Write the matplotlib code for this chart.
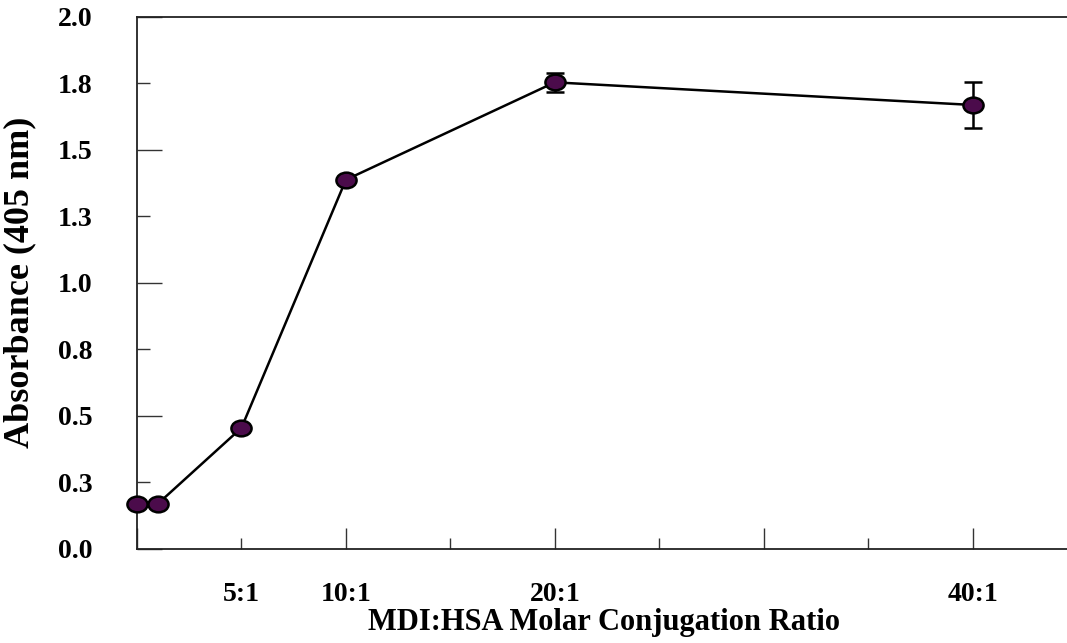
import numpy as np
import matplotlib
matplotlib.use("Agg")
import matplotlib.pyplot as plt
from matplotlib.path import Path
from matplotlib.transforms import Affine2D

# MDI:HSA conjugation ratio vs absorbance
ratio = [0, 1, 5, 10, 20, 40]
absorbance = [0.17, 0.17, 0.455, 1.387, 1.753, 1.668]
abs_err = [0, 0, 0, 0, 0.035, 0.087]

y_major = [0.0, 0.5, 1.0, 1.5, 2.0]
y_major_labels = ['0.0', '0.5', '1.0', '1.5', '2.0']
y_minor = [0.25, 0.75, 1.25, 1.75]
y_minor_labels = ['0.3', '0.8', '1.3', '1.8']

x_major = [0, 10, 20, 30, 40]
x_major_labels = ['', '10:1', '20:1', '', '40:1']
x_minor = [5, 15, 25, 35]
x_minor_labels = ['5:1', '', '', '']

plt.rcParams['font.family'] = ['Liberation Serif', 'DejaVu Serif']
plt.rcParams['font.weight'] = 'bold'

fig = plt.figure(figsize=(10.67, 6.43), dpi=100)
ax = fig.add_axes([0.1284, 0.1462, 0.881, 0.828])

# slightly flattened dot marker
oval = Path.unit_circle().transformed(Affine2D().scale(1.0, 0.78))

ax.errorbar(ratio, absorbance, yerr=abs_err, color='black', lw=1.8,
            elinewidth=1.8, capsize=6.5, capthick=1.8,
            marker=oval, markersize=14.5, markerfacecolor='#4b0b4b',
            markeredgecolor='black', markeredgewidth=1.8, clip_on=False, zorder=3)

ax.set_xlim(0, 45)
ax.set_ylim(0, 2.0)

ax.spines['right'].set_visible(False)
for s in ['left', 'bottom', 'top']:
    ax.spines[s].set_linewidth(1.3)
    ax.spines[s].set_color('#222222')

ax.set_yticks(y_major, labels=y_major_labels)
ax.set_yticks(y_minor, labels=y_minor_labels, minor=True)
ax.set_xticks(x_major, labels=x_major_labels)
ax.set_xticks(x_minor, labels=x_minor_labels, minor=True)

ax.tick_params(axis='y', which='major', direction='in', length=18, width=1.0,
               pad=32, labelsize=20, color='#333333')
ax.tick_params(axis='y', which='minor', direction='in', length=9, width=1.0,
               pad=32, labelsize=20, color='#333333')
ax.tick_params(axis='x', which='major', direction='in', length=15, width=1.0,
               pad=24, labelsize=20, color='#333333')
ax.tick_params(axis='x', which='minor', direction='in', length=8, width=1.0,
               pad=24, labelsize=20, color='#333333')
for lab in ax.get_xticklabels(which='both') + ax.get_yticklabels(which='both'):
    lab.set_fontweight('bold')

ax.set_xlabel('MDI:HSA Molar Conjugation Ratio', fontsize=22, fontweight='bold')
ax.set_ylabel('Absorbance (405 nm)', fontsize=26, fontweight='bold')
ax.yaxis.set_label_coords(-0.107, 0.5)
ax.xaxis.set_label_coords(0.497, -0.11)
ax.xaxis.label.set_verticalalignment('top')

fig.savefig('out.png', dpi=100)
